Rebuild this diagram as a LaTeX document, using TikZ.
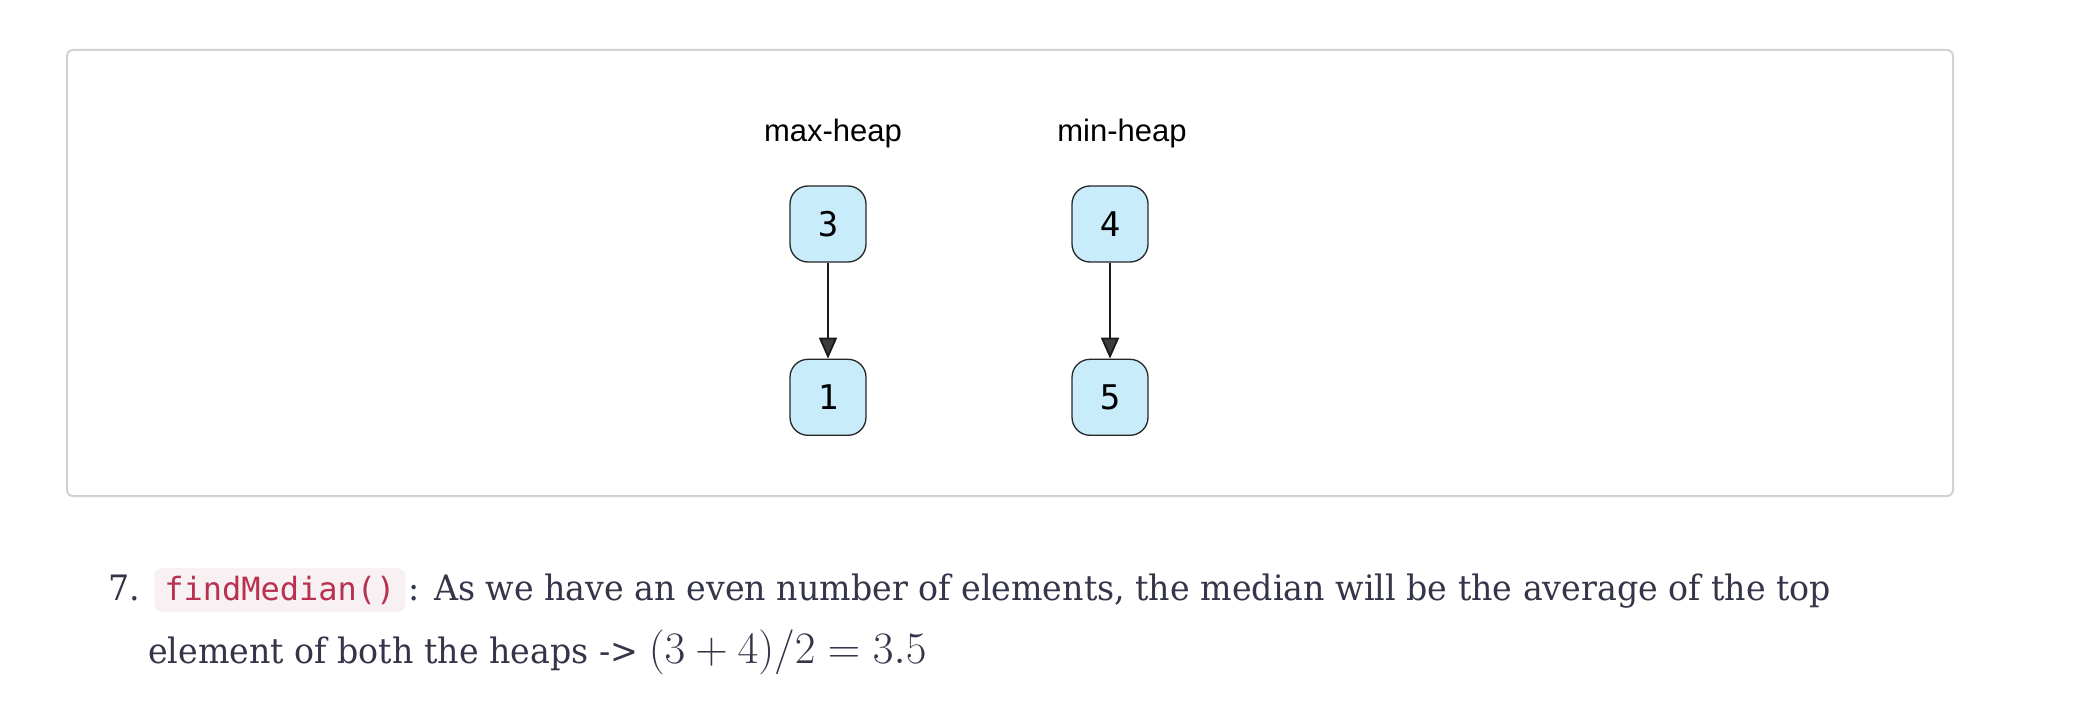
\RequirePackage{fix-cm}
\documentclass[tikz,border=0pt]{standalone}
\usepackage{fontspec}
\setmainfont{DejaVu Serif}
\newfontfamily\labelfont{Liberation Sans}
\newfontfamily\keyfont{DejaVu Sans Mono}
\newfontfamily\bodyfont[FakeStretch=0.95]{DejaVu Serif}
\usetikzlibrary{arrows.meta, positioning}
\definecolor{heapblue}{RGB}{201,236,251}
\definecolor{framegray}{RGB}{210,210,214}
\definecolor{inkslate}{RGB}{52,53,72}
\definecolor{codered}{RGB}{184,50,80}
\definecolor{codebg}{RGB}{247,241,243}
\definecolor{tipgray}{RGB}{60,60,60}

\begin{document}
\begin{tikzpicture}[
  x = 1pt, y = -1pt,
  > = {Triangle[length=21pt, width=18pt, fill=tipgray]},
  heap node/.style = {draw=black!85, line width=1.3pt, fill=heapblue, rounded corners=18pt,
    minimum size=76pt, inner sep=0pt, font=\keyfont\fontsize{34}{40}\selectfont},
  heap label/.style = {anchor=base, inner sep=0pt, font=\labelfont\fontsize{31}{36}\selectfont},
  heap edge/.style = {->, line width=1.8pt, draw=black!90},
  body text/.style = {anchor=base west, inner sep=0pt, text=inkslate,
    font=\bodyfont\fontsize{35}{42}\selectfont},
  code chip/.style = {anchor=base west, fill=codebg, rounded corners=8pt, text=codered,
    inner xsep=10pt, inner ysep=0pt, text height=32pt, text depth=12pt,
    font=\keyfont\fontsize{32}{38}\selectfont},
  node distance = 96pt
]
  \useasboundingbox (0,0) rectangle (2088,722);
  \draw[framegray, line width=2pt, rounded corners=6pt] (67,50) rectangle (1953,496);

  % the two heaps
  \node[heap label] (maxlbl) at (833,142) {max-heap};
  \node[heap label] (minlbl) at (1122,142) {min-heap};

  \node[heap node] (max3) at (828,224) {3};
  \node[heap node, below=of max3] (max1) {1};
  \node[heap node] (min4) at (1110,224) {4};
  \node[heap node, below=of min4] (min5) {5};

  \draw[heap edge] (max3) -- (max1);
  \draw[heap edge] (min4) -- (min5);

  % step 7 below the box
  \node[body text] (item) at (108,600) {7.};
  \node[code chip] (call) at ([xshift=14pt]item.base east) {findMedian()};
  \node[body text] (line1) at ([xshift=3pt]call.base east)
    {: As we have an even number of elements, the median will be the average of the top};
  \node[body text] (line2) at (148,663)
    {element of both the heaps -> {\fontsize{45}{54}\selectfont$(3+4)/2=3.5$}};
\end{tikzpicture}
\end{document}
